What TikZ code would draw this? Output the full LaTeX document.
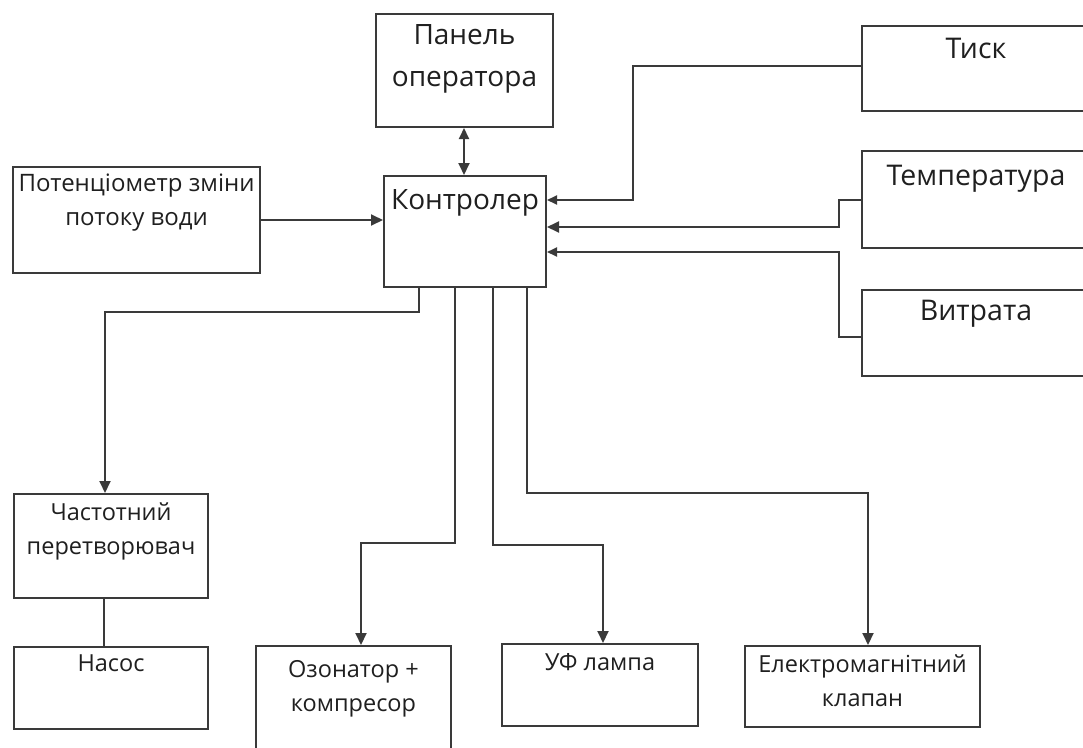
\documentclass[tikz,border=0pt]{standalone}
\usepackage{fontspec}
\setmainfont{Open Sans}
\usetikzlibrary{arrows.meta}
\definecolor{ln}{HTML}{3A3A3A}
\tikzset{
  x=1pt,y=-1pt,
  box/.style={draw=ln,line width=2pt,rectangle,inner sep=0pt,anchor=north west},
  lbl/.style={anchor=north,align=center,inner sep=0pt,text=black!88},
  conn/.style={draw=ln,line width=1.9pt},
  arr/.style={conn,-{Triangle[length=12pt,width=11pt]}},
  arrs/.style={conn,-{Triangle[length=10pt,width=9pt]}},
  dbl/.style={conn,{Triangle[length=11pt,width=10pt]}-{Triangle[length=12pt,width=11pt]}},
  fA/.style={font=\fontsize{28}{42}\selectfont},
  fR/.style={font=\fontsize{28.5}{40}\selectfont},
  fB/.style={font=\fontsize{24}{34}\selectfont},
  fC/.style={font=\fontsize{23.5}{34}\selectfont},
}
\begin{document}
\begin{tikzpicture}
\useasboundingbox (0,0) rectangle (1083,747);
\clip (0,0) rectangle (1083,747);
% boxes
\node[box,minimum width=177pt,minimum height=113pt] (pan) at (375,13) {};
\node[box,minimum width=240pt,minimum height=85pt] (tysk) at (861,25) {};
\node[box,minimum width=240pt,minimum height=97pt] (temp) at (861,150) {};
\node[box,minimum width=240pt,minimum height=86pt] (vytr) at (861,289) {};
\node[box,minimum width=247pt,minimum height=106pt] (pot) at (12,166) {};
\node[box,minimum width=162pt,minimum height=111pt] (ctrl) at (383,175) {};
\node[box,minimum width=194pt,minimum height=104pt] (chast) at (13,493) {};
\node[box,minimum width=194pt,minimum height=82pt] (nasos) at (13,646) {};
\node[box,minimum width=195pt,minimum height=120pt] (ozon) at (255,645) {};
\node[box,minimum width=196pt,minimum height=82pt] (uf) at (501,643) {};
\node[box,minimum width=235pt,minimum height=81pt] (elek) at (744,645) {};
% labels
\node[lbl,fA] (tpan) at ([yshift=-11pt]pan.north) {Панель\\оператора};
\node[lbl,fR] (ttysk) at ([yshift=-13pt]tysk.north -| 976,0) {Тиск};
\node[lbl,fR] (ttemp) at ([yshift=-15pt]temp.north -| 976,0) {Температура};
\node[lbl,fR] (tvytr) at ([yshift=-11pt]vytr.north -| 976,0) {Витрата};
\node[lbl,fB] (tpot) at ([yshift=-8pt]pot.north) {Потенцiометр зміни\\потоку води};
\node[lbl,fA] (tctrl) at ([yshift=-14pt]ctrl.north) {Контролер};
\node[lbl,fC] (tchast) at ([yshift=-10pt]chast.north) {Частотний\\перетворювач};
\node[lbl,fC] (tnasos) at ([yshift=-9pt]nasos.north) {Насос};
\node[lbl,fC] (tozon) at ([yshift=-15pt]ozon.north) {Озонатор +\\компресор};
\node[lbl,fC] (tuf) at ([yshift=-10pt]uf.north) {УФ лампа};
\node[lbl,fC] (telek) at ([yshift=-10pt]elek.north) {Електромагнітний\\клапан};
% connectors
\draw[dbl] (pan.south -| 464,0) -- (ctrl.north -| 464,0);
\draw[arr] (pot.east) -- (ctrl.west |- pot.east);
\draw[arrs] (tysk.west |- 0,66) -| (633,200) -- (ctrl.east |- 0,200);
\draw[arr] (temp.west |- 0,200) -| (839,227) -- (ctrl.east |- 0,227);
\draw[arrs] (vytr.west |- 0,337) -| (839,252) -- (ctrl.east |- 0,252);
\draw[arr] (ctrl.south -| 419,0) |- (105,312) -- (chast.north -| 105,0);
\draw[arr] (ctrl.south -| 455,0) |- (361,543) -- (ozon.north -| 361,0);
\draw[arr] (ctrl.south -| 493,0) |- (603,545) -- (uf.north -| 603,0);
\draw[arr] (ctrl.south -| 527,0) |- (868,493) -- (elek.north -| 868,0);
\draw[conn] (chast.south -| 104,0) -- (nasos.north -| 104,0);
\end{tikzpicture}
\end{document}
